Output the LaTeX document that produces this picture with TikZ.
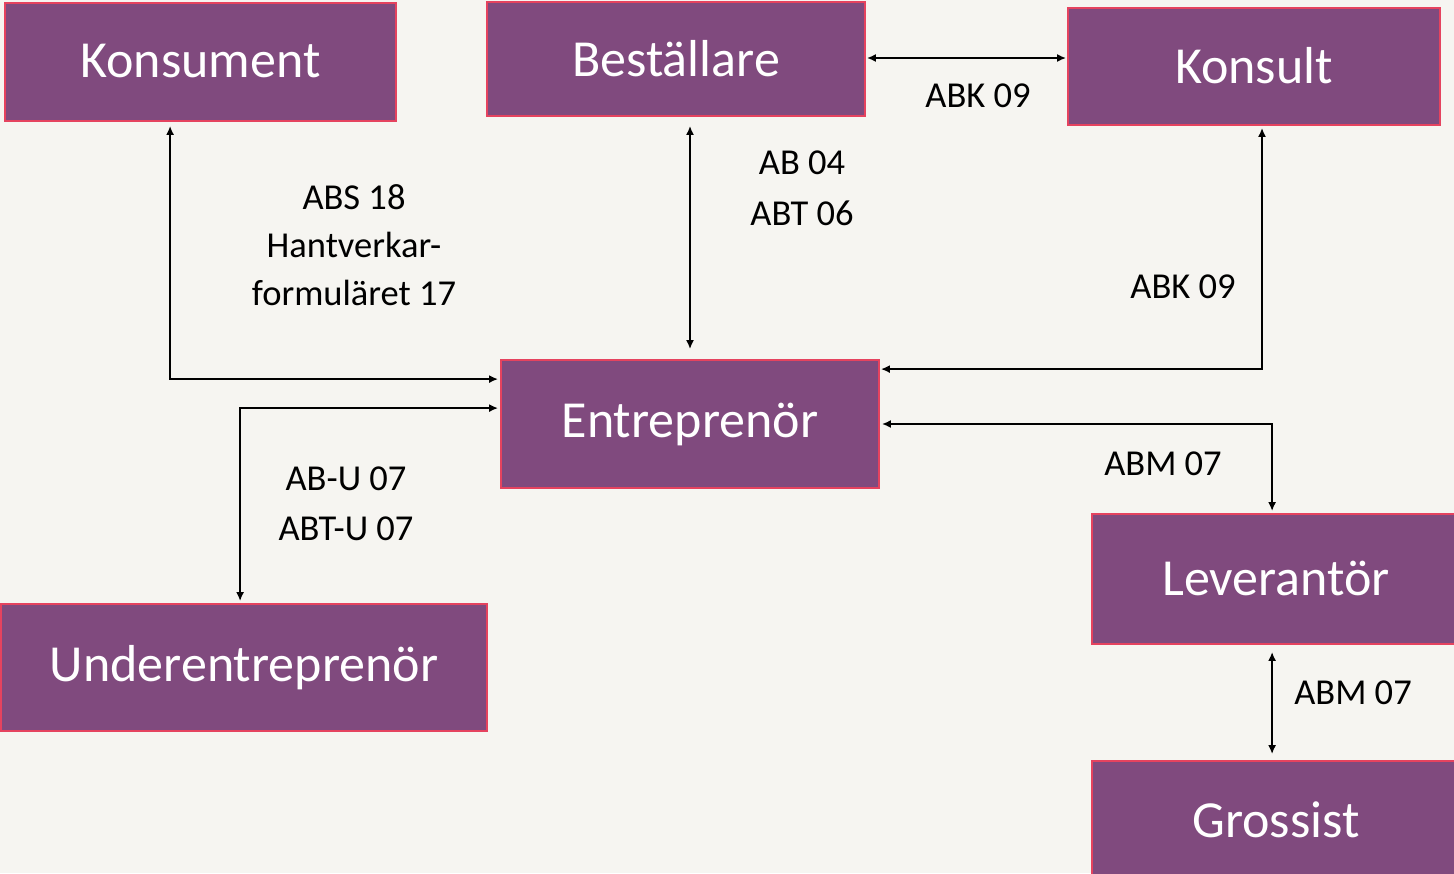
\documentclass[tikz,border=0pt]{standalone}
\usepackage{fontspec}
\setmainfont{Carlito}
\usetikzlibrary{arrows.meta,calc}
\definecolor{bg}{HTML}{F6F5F1}
\definecolor{boxfill}{HTML}{804A7E}
\definecolor{boxline}{HTML}{E5435F}
\tikzset{
  box/.style={rectangle, fill=boxfill, draw=boxline, line width=1.8pt, text=white,
    inner sep=0pt, font=\fontsize{52}{60}\selectfont},
  lbl/.style={align=center, text=black, inner sep=0pt},
  conn/.style={line width=2pt, draw=black, {Latex[length=9pt,width=8pt]}-{Latex[length=9pt,width=8pt]}},
}
\begin{document}
\begin{tikzpicture}[x=1pt,y=-1pt]
\fill[bg] (0,0) rectangle (1454,873);
\useasboundingbox (0,0) rectangle (1454,873);
% boxes
\node[box, minimum width=391, minimum height=118] (kons) at (200.5,62) {\raisebox{2pt}{Konsument}};
\node[box, minimum width=378, minimum height=114] (best) at (676,59) {\raisebox{2pt}{Beställare}};
\node[box, minimum width=372, minimum height=117] (konsult) at (1254,66.5) {\raisebox{2pt}{Konsult}};
\node[box, minimum width=378, minimum height=128] (entr) at (690,424) {\raisebox{2pt}{Entreprenör}};
\node[box, minimum width=368, minimum height=130] (lev) at (1276,579) {\raisebox{2pt}{Leverantör}};
\node[box, minimum width=368, minimum height=119] (gross) at (1276,820.5) {\raisebox{2pt}{Grossist}};
\node[box, minimum width=486, minimum height=127] (under) at (244,667.5) {\raisebox{2pt}{Underentreprenör}};
% connector end points
\coordinate (k1) at ($(kons.south west)+(166,4)$);
\coordinate (e1) at ($(entr.north west)+(-2,20)$);
\coordinate (u1) at ($(under.north west)+(240,-2)$);
\coordinate (e2) at ($(entr.north west)+(-2,49)$);
\coordinate (b1) at ($(best.south)+(14,9)$);
\coordinate (e3) at ($(entr.north)+(0,-10)$);
\coordinate (b2) at ($(best.east)+(1,-1)$);
\coordinate (c1) at ($(konsult.west)+(-1,-8.5)$);
\coordinate (c2) at ($(konsult.south)+(8,2)$);
\coordinate (e4) at ($(entr.north east)+(1,10)$);
\coordinate (e5) at ($(entr.east)+(2,0)$);
\coordinate (l1) at ($(lev.north west)+(181,-2)$);
\coordinate (l2) at ($(lev.south west)+(181,7)$);
\coordinate (g1) at ($(gross.north west)+(181,-6)$);
% connectors
\draw[conn] (k1) |- (e1);
\draw[conn] (u1) |- (e2);
\draw[conn] (b1) -- (e3);
\draw[conn] (b2) -- (c1);
\draw[conn] (c2) |- (e4);
\draw[conn] (e5) -| (l1);
\draw[conn] (l2) -- (g1);
% labels
\node[lbl, font=\fontsize{36.5}{50}\selectfont] (t1) at (978,96) {ABK 09};
\node[lbl, font=\fontsize{36.5}{51}\selectfont] (t2) at (802,188) {AB 04\\ABT 06};
\node[lbl, font=\fontsize{36.5}{48}\selectfont] (t3) at (354,245) {ABS 18\\Hantverkar-\\formuläret 17};
\node[lbl, font=\fontsize{36.5}{50}\selectfont] (t4) at (1183,287) {ABK 09};
\node[lbl, font=\fontsize{36.5}{50}\selectfont] (t5) at (1163,464) {ABM 07};
\node[lbl, font=\fontsize{36.5}{50}\selectfont] (t6) at (346,504) {AB-U 07\\ABT-U 07};
\node[lbl, font=\fontsize{36.5}{50}\selectfont] (t7) at (1353,693) {ABM 07};
\end{tikzpicture}
\end{document}
